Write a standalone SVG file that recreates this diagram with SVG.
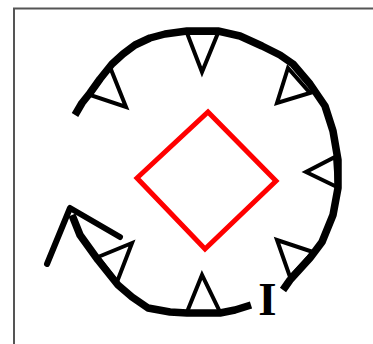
<svg xmlns="http://www.w3.org/2000/svg" width="373" height="344" viewBox="0 0 373 344">
<style>
.ring{fill:none;stroke:#000;stroke-width:7.5;stroke-linejoin:round}
.tri{fill:none;stroke:#000;stroke-width:4;stroke-linejoin:miter;stroke-linecap:round}
.arrow{fill:none;stroke:#000;stroke-width:6;stroke-linecap:round;stroke-linejoin:round}
</style>
<rect x="14" y="8.5" width="380" height="360" fill="#fff" stroke="#555" stroke-width="2"/>
<g id="ring">
<path class="ring" d="M75,115 L82,103 L90,93 L100,79 L112,64 L123,54 L135,45 L150,38 L165,34 L187,31 L218,31 L240,36 L262,46 L280,55 L293,64 L310,84 L325,106 L333,131 L338,160 L338,188 L333,215 L322,242 L310,258 L290,280 L283,290"/>
<path class="ring" d="M251,305 L235,310 L220,313 L187,313 L170,312 L148,308 L132,297 L118,285 L98,260 L80,235 L72,215"/>
</g>
<g id="notches">
<polygon class="tri" points="187,33 218,33 202,72"/>
<polygon class="tri" points="288,68 310,93 277,103"/>
<polygon class="tri" points="335,157 337,187 306,172"/>
<polygon class="tri" points="313,252 290,277 277,240"/>
<polygon class="tri" points="187,312 220,312 202,275"/>
<polygon class="tri" points="98,257 117,282 132,243"/>
<polygon class="tri" points="90,95 110,67 126,107"/>
</g>
<g id="diamond">
<polygon points="208,112 276,181 205,249 137,178" fill="none" stroke="#f00" stroke-width="5"/>
</g>
<g id="connectors">
<polyline class="arrow" points="120,237 70,208 47,264"/>
</g>
<text x="267.5" y="315" font-family="'Liberation Serif',serif" font-weight="bold" font-size="47" text-anchor="middle" fill="#000">I</text>
</svg>
